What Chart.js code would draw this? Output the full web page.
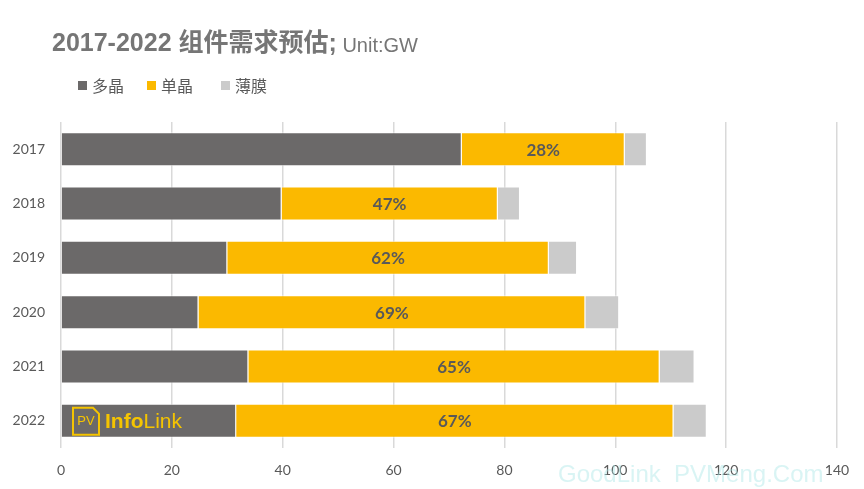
<!DOCTYPE html>
<html>
<head>
<meta charset="utf-8">
<script src="https://cdn.jsdelivr.net/npm/chart.js@4.4.0/dist/chart.umd.min.js"></script>
<style>
  html, body { margin: 0; padding: 0; background: #fff; }
  #wrap { width: 864px; height: 489px; position: relative; }
</style>
</head>
<body>
<div id="wrap"><canvas id="chart" width="864" height="489"></canvas></div>
<script>
// Data (GW)
const years = ['2017', '2018', '2019', '2020', '2021', '2022'];
const multi = [72.3, 39.8, 30.0, 24.8, 33.8, 31.6];
const mono = [29.4, 39.0, 58.0, 69.8, 74.2, 78.9];
const thinFilm = [4.0, 4.0, 5.1, 6.1, 6.3, 6.0];
const monoShare = ['28%', '47%', '62%', '69%', '65%', '67%'];
const xTicks = [0, 20, 40, 60, 80, 100, 120, 140];

const colors = ['#6b6969', '#fbb900', '#cbcbcb'];
const textGray = '#595959';

// Title, legend, bar labels, logo, watermark
const decorPlugin = {
    id: 'decor',
    afterDraw(chart) {
        const ctx = chart.ctx;
        ctx.save();

        // title
        ctx.textBaseline = 'middle';
        ctx.textAlign = 'left';
        ctx.fillStyle = '#767676';
        ctx.font = 'bold 25px "Liberation Sans", "Noto Sans CJK SC", sans-serif';
        const t1 = '2017-2022 组件需求预估;';
        ctx.fillText(t1, 52, 44);
        const w1 = ctx.measureText(t1).width;
        ctx.font = '20px "Liberation Sans", "Noto Sans CJK SC", sans-serif';
        ctx.fillText(' Unit:GW', 52 + w1, 46);

        // legend
        const legX = [78, 147, 221];
        ctx.font = '16px "Noto Sans CJK SC", sans-serif';
        chart.data.datasets.forEach((ds, i) => {
            ctx.fillStyle = ds.backgroundColor;
            ctx.fillRect(legX[i], 81, 9, 9);
            ctx.fillStyle = textGray;
            ctx.fillText(ds.label, legX[i] + 14, 86);
        });

        // share labels in the mono segment
        const xs = chart.scales.x;
        const ys = chart.scales.y;
        ctx.font = 'bold 17px Lato, "Open Sans", sans-serif';
        ctx.fillStyle = textGray;
        ctx.textAlign = 'center';
        years.forEach((y, i) => {
            const cx = xs.getPixelForValue(multi[i] + mono[i] / 2);
            const cy = ys.getPixelForValue(i);
            ctx.fillText(monoShare[i], cx, cy + 1);
        });

        // logo on the last bar
        const ly = ys.getPixelForValue(years.length - 1);
        const lx = xs.getPixelForValue(0) + 12;
        ctx.strokeStyle = '#f5c400';
        ctx.lineWidth = 2;
        ctx.beginPath();
        ctx.moveTo(lx, ly - 13);
        ctx.lineTo(lx + 20, ly - 13);
        ctx.lineTo(lx + 26, ly - 7);
        ctx.lineTo(lx + 26, ly + 14);
        ctx.lineTo(lx, ly + 14);
        ctx.closePath();
        ctx.stroke();
        ctx.fillStyle = '#f5c400';
        ctx.font = '13px "Liberation Sans", sans-serif';
        ctx.textAlign = 'center';
        ctx.fillText('PV', lx + 13, ly + 1);
        ctx.textAlign = 'left';
        ctx.font = 'bold 21px "Liberation Sans Narrow", "Liberation Sans", sans-serif';
        ctx.fillText('Info', lx + 32, ly + 1);
        const wi = ctx.measureText('Info').width;
        ctx.font = '21px "Liberation Sans Narrow", "Liberation Sans", sans-serif';
        ctx.fillText('Link', lx + 32 + wi, ly + 1);

        // watermark
        ctx.fillStyle = 'rgba(170, 230, 230, 0.45)';
        ctx.font = '24px "Liberation Sans", sans-serif';
        ctx.fillText('GoodLink  PVMeng.Com', 558, 475);

        ctx.restore();
    }
};

new Chart(document.getElementById('chart'), {
    type: 'bar',
    data: {
        labels: years,
        datasets: [
            { label: '多晶', data: multi, backgroundColor: colors[0] },
            { label: '单晶', data: mono, backgroundColor: colors[1] },
            { label: '薄膜', data: thinFilm, backgroundColor: colors[2] }
        ].map(ds => Object.assign(ds, {
            borderColor: 'rgba(255,255,255,0.6)',
            borderWidth: 1,
            barPercentage: 0.625,
            categoryPercentage: 1.0
        }))
    },
    options: {
        indexAxis: 'y',
        responsive: false,
        animation: false,
        layout: {
            padding: { top: 122, right: 27, bottom: 11, left: 0 }
        },
        plugins: {
            legend: { display: false },
            title: { display: false },
            tooltip: { enabled: false }
        },
        scales: {
            x: {
                stacked: true,
                min: 0,
                max: 140,
                afterBuildTicks: (scale) => {
                    scale.ticks = xTicks.map(v => ({ value: v }));
                },
                afterFit: (scale) => { scale.height = 30; },
                grid: {
                    color: '#d9d9d9',
                    lineWidth: 1.5,
                    drawTicks: false
                },
                border: { display: false },
                ticks: {
                    color: textGray,
                    padding: 14,
                    font: { family: 'Lato, "Open Sans", sans-serif', size: 14 }
                }
            },
            y: {
                stacked: true,
                grid: { display: false, drawTicks: false },
                border: { display: false },
                afterFit: (scale) => { scale.width = 61; },
                ticks: {
                    color: textGray,
                    padding: 16,
                    font: { family: 'Lato, "Open Sans", sans-serif', size: 14 }
                }
            }
        }
    },
    plugins: [decorPlugin]
});
</script>
</body>
</html>
